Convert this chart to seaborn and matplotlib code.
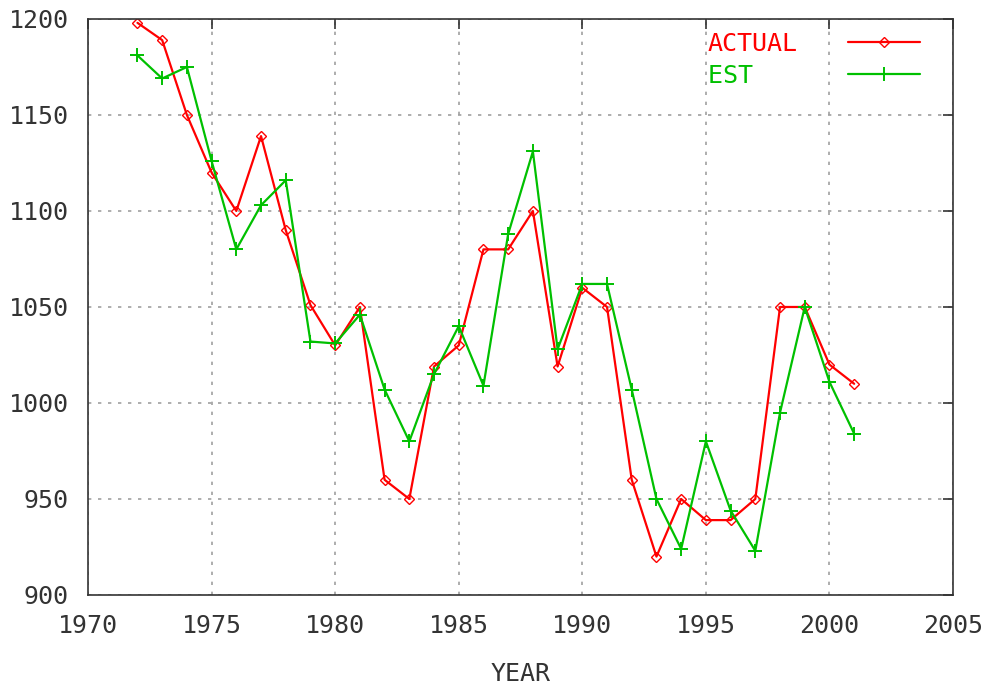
import matplotlib
matplotlib.use("Agg")
import matplotlib.pyplot as plt
import seaborn as sns
import pandas as pd

years = list(range(1972, 2002))
actual = [1198, 1189, 1150, 1120, 1100, 1139, 1090, 1051, 1030, 1050,
          960, 950, 1019, 1030, 1080, 1080, 1100, 1019, 1060, 1050,
          960, 920, 950, 939, 939, 950, 1050, 1050, 1020, 1010]
est = [1181, 1169, 1175, 1126, 1080, 1103, 1116, 1032, 1031, 1046,
       1007, 980, 1015, 1040, 1009, 1088, 1131, 1028, 1062, 1062,
       1007, 950, 924, 980, 944, 923, 995, 1050, 1011, 984]
series_names = ["ACTUAL", "EST"]
x_ticks = list(range(1970, 2006, 5))
y_ticks = list(range(900, 1201, 50))

sns.set_style("white")
plt.rcParams['font.family'] = ['DejaVu Sans Mono', 'DejaVu Sans']

fig = plt.figure(figsize=(9.88, 6.9), dpi=100)
ax = fig.add_axes([0.0891, 0.1377, 0.8755, 0.8348])

df_a = pd.DataFrame({"YEAR": years, "value": actual})
df_e = pd.DataFrame({"YEAR": years, "value": est})

red = "#ff0000"
green = "#00c000"
sns.lineplot(data=df_a, x="YEAR", y="value", ax=ax, color=red, lw=1.6,
             marker="D", markersize=5, markerfacecolor="none",
             markeredgecolor=red, markeredgewidth=1.0,
             label=series_names[0])
sns.lineplot(data=df_e, x="YEAR", y="value", ax=ax, color=green, lw=1.6,
             marker="+", markersize=10, markeredgecolor=green,
             markeredgewidth=1.4, label=series_names[1] + "   ")

ax.set_xlim(1970, 2005)
ax.set_ylim(900, 1200)
ax.set_xticks(x_ticks)
ax.set_yticks(y_ticks)
ax.grid(True, color="#a0a0a0", linestyle=(0, (2, 4)), linewidth=1.2)
ax.tick_params(direction="in", length=7, width=1.2, top=True, right=True,
               labelsize=18, colors="#333333", pad=14)
for s in ax.spines.values():
    s.set_color("#333333")
    s.set_linewidth(1.2)
ax.set_xlabel("YEAR", fontsize=18, labelpad=17, color="#333333")
ax.set_ylabel("")

leg = ax.legend(loc="upper right", frameon=False, markerfirst=False,
                labelcolor="linecolor", fontsize=18, handlelength=2.9,
                bbox_to_anchor=(0.962, 0.977), handletextpad=2.0,
                labelspacing=0.3, borderpad=0, borderaxespad=0)

fig.savefig("out.png", dpi=100)
